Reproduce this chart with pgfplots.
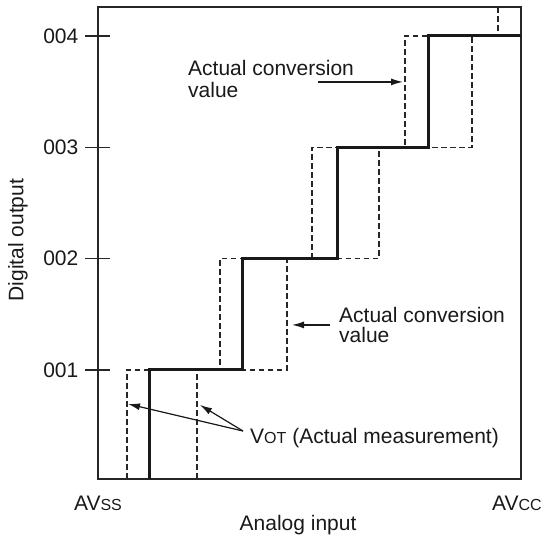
\documentclass[border=0pt]{standalone}
\usepackage{fontspec}
\setmainfont{Liberation Sans}
\usepackage{pgfplots}
\pgfplotsset{compat=1.18}
\usetikzlibrary{arrows.meta}
\newcommand{\sm}[1]{{\fontsize{16}{16}\selectfont #1}}
\begin{document}
\fontsize{21}{25}\selectfont
\begin{tikzpicture}
\begin{axis}[
  scale only axis, width=423pt, height=472pt,
  xmin=0, xmax=423, ymin=0.02, ymax=4.26,
  clip=false,
  axis line style={line width=1.4pt, color=black!85},
  /pgf/number format/assume math mode=true,
  ticklabel style={font=\fontsize{21}{25}\selectfont, text=black!90},
  label style={font=\fontsize{21}{25}\selectfont, text=black!90},
  xtick={0,419},
  xticklabels={AV\sm{SS}, AV\sm{CC}},
  xtick style={draw=none},
  xticklabel style={anchor=base, yshift=-19pt},
  ytick={1,2,3,4},
  yticklabels={001,002,003,004},
  ytick pos=left,
  ytick style={line width=1.4pt, color=black!85},
  major tick length=25pt, tick align=center,
  yticklabel style={anchor=east},
  xlabel={Analog input},
  xlabel style={at={(axis description cs:0.473,-0.0975)}, anchor=center},
  ylabel={Digital output},
  ylabel style={at={(axis description cs:-0.189,0.506)}, anchor=center},
]
% left dashed staircase
\addplot[black!85, line width=1.3pt, dash pattern=on 5.5pt off 3.5pt] coordinates {
 (29,0.02) (29,1) (122,1) (122,2) (214,2) (214,3) (307,3) (307,4) (400,4) (400,4.26)};
% right dashed staircase
\addplot[black!85, line width=1.3pt, dash pattern=on 5.5pt off 3.5pt] coordinates {
 (99,0.02) (99,1) (189,1) (189,2) (281,2) (281,3) (374,3) (374,4) (423,4)};
% ideal / solid staircase
\addplot[black!90, line width=3pt] coordinates {
 (52,0.02) (52,1) (145,1) (145,2) (239,2) (239,3) (330,3) (330,4) (423,4)};
% annotations
\draw[-{Latex[length=12pt,width=7pt]}, line width=1.2pt, black!90] (axis cs:220,3.587) -- (axis cs:305,3.587);
\node[anchor=base west, inner sep=0pt, text=black!90] at (axis cs:90,3.645) {Actual conversion};
\node[anchor=base west, inner sep=0pt, text=black!90] at (axis cs:90,3.443) {value};
\draw[-{Latex[length=12pt,width=7pt]}, line width=1.2pt, black!90] (axis cs:232,1.404) -- (axis cs:194,1.404);
\node[anchor=base west, inner sep=0pt, text=black!90] at (axis cs:241,1.422) {Actual conversion};
\node[anchor=base west, inner sep=0pt, text=black!90] at (axis cs:241,1.242) {value};
\draw[-{Latex[length=12pt,width=7pt]}, line width=1.2pt, black!90] (axis cs:145,0.451) -- (axis cs:30,0.694);
\draw[-{Latex[length=12pt,width=7pt]}, line width=1.2pt, black!90] (axis cs:145,0.451) -- (axis cs:102,0.685);
\node[anchor=base west, inner sep=0pt, text=black!90] at (axis cs:152,0.343) {V\sm{OT} (Actual measurement)};
\end{axis}
\pgfresetboundingbox
\path[use as bounding box] ([shift={(-98pt,-61pt)}]current axis.south west) rectangle ([shift={(23pt,7pt)}]current axis.north east);
\end{tikzpicture}
\end{document}
